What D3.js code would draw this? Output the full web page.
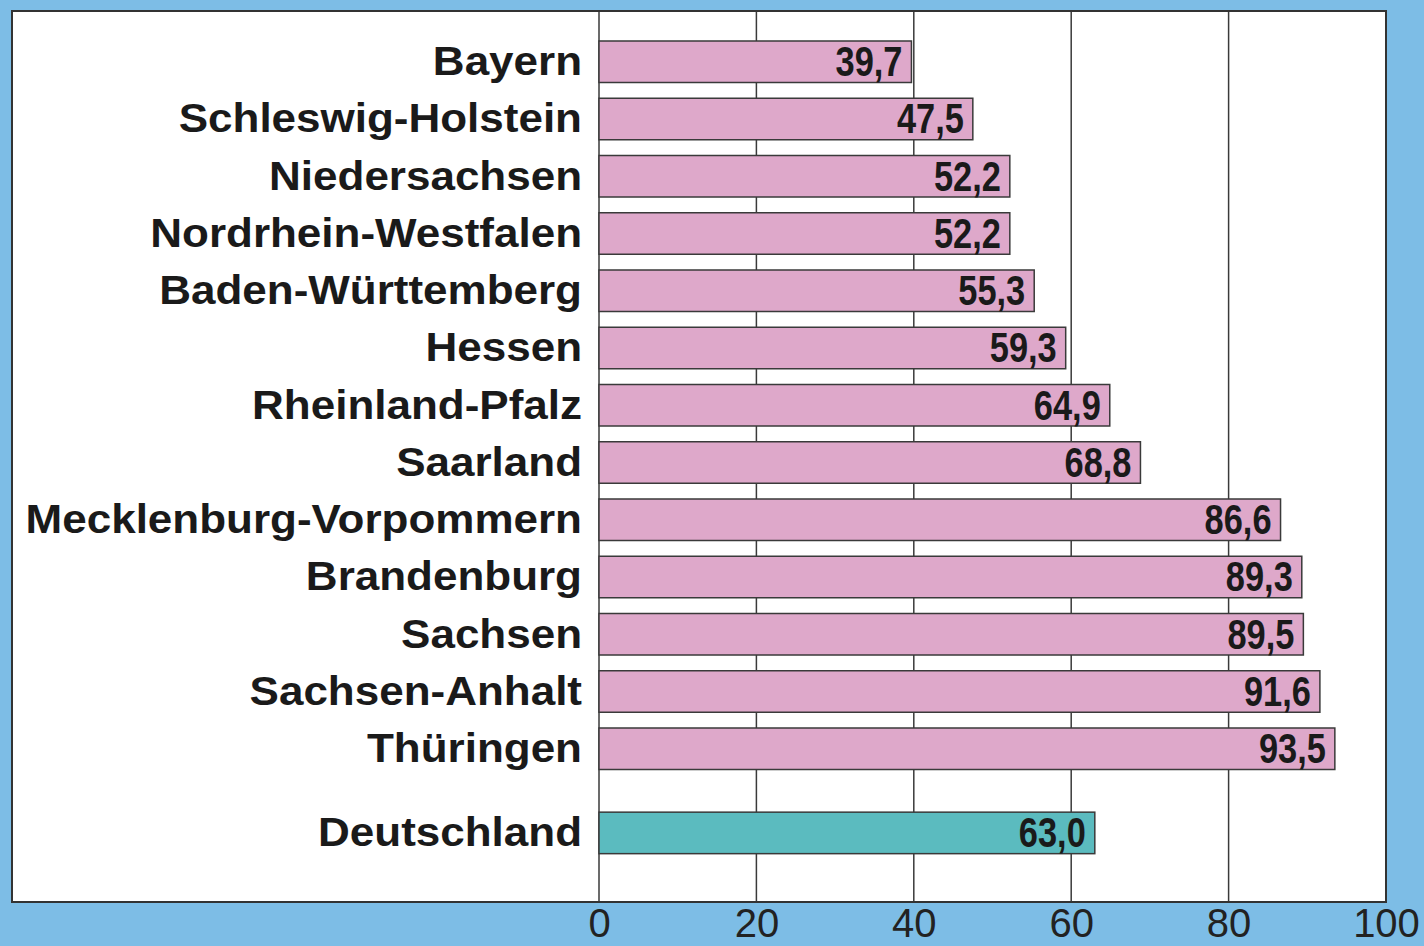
<!DOCTYPE html>
<html><head><meta charset="utf-8">
<script src="https://cdn.jsdelivr.net/npm/d3@7"></script>
<style>html,body{margin:0;padding:0;background:#7dbde6;overflow:hidden}</style>
</head><body>
<svg id="c" width="1424" height="946"></svg>
<script>
const states = ["Bayern","Schleswig-Holstein","Niedersachsen","Nordrhein-Westfalen","Baden-Württemberg","Hessen","Rheinland-Pfalz","Saarland","Mecklenburg-Vorpommern","Brandenburg","Sachsen","Sachsen-Anhalt","Thüringen"];
const stateValues = [39.7,47.5,52.2,52.2,55.3,59.3,64.9,68.8,86.6,89.3,89.5,91.6,93.5];
const totalLabel = ["Deutschland"];
const totalValue = [63.0];
const ticks = [0,20,40,60,80,100];

const svg = d3.select("#c");
const W = 1424, H = 946;
const panel = {l:12, t:11, r:1386, b:902};
const x = d3.scaleLinear().domain([0,100]).range([599, 1386]);
const y = d3.scaleLinear().domain([0,1]).range([41, 98.25]);
const barH = 41.5;
const fmt = v => d3.format(".1f")(v).replace(".", ",");

svg.append("rect").attr("width",W).attr("height",H).attr("fill","#7dbde6");
svg.append("rect").attr("x",panel.l).attr("y",panel.t).attr("width",panel.r-panel.l).attr("height",panel.b-panel.t)
  .attr("fill","#ffffff");

// gridlines
svg.append("g").selectAll("line").data(ticks.filter(t=>t<100)).join("line")
  .attr("x1",d=>x(d)).attr("x2",d=>x(d)).attr("y1",panel.t).attr("y2",panel.b)
  .attr("stroke","#3a3a3a").attr("stroke-width",1.5);

const rows = states.map((s,i)=>({name:s, value:stateValues[i], idx:i, color:"#dea8ca"}))
  .concat(totalLabel.map((s,i)=>({name:s, value:totalValue[i], idx:13.47, color:"#5bbbbf"})));

const g = svg.append("g");
g.selectAll("rect.bar").data(rows).join("rect").attr("class","bar")
  .attr("x",x(0)).attr("y",d=>y(d.idx)).attr("width",d=>x(d.value)-x(0)).attr("height",barH)
  .attr("fill",d=>d.color).attr("stroke","#3a3a3a").attr("stroke-width",1.5);

// value labels (condensed bold)
g.selectAll("text.val").data(rows).join("text").attr("class","val")
  .attr("transform",d=>`translate(${x(d.value)-9},${y(d.idx)+35}) scale(0.8,1)`)
  .attr("text-anchor","end")
  .attr("font-family","'Liberation Sans', Arial, sans-serif").attr("font-weight","bold")
  .attr("font-size",43).attr("fill","#1a1a1a")
  .text(d=>fmt(d.value));

// category labels
g.selectAll("text.cat").data(rows).join("text").attr("class","cat")
  .attr("transform",d=>`translate(582,${y(d.idx)+34}) scale(1.1,1)`)
  .attr("text-anchor","end")
  .attr("font-family","'Liberation Sans', Arial, sans-serif").attr("font-weight","bold")
  .attr("font-size",40).attr("fill","#1a1a1a")
  .text(d=>d.name);

// panel border
svg.append("rect").attr("x",panel.l).attr("y",panel.t).attr("width",panel.r-panel.l).attr("height",panel.b-panel.t)
  .attr("fill","none").attr("stroke","#333").attr("stroke-width",2);

// x axis tick labels
const ax = svg.append("g").attr("transform",`translate(0,${panel.b})`)
  .call(d3.axisBottom(x).tickValues(ticks).tickSize(0).tickPadding(0).tickFormat(d3.format("d")));
ax.select(".domain").remove();
ax.selectAll("text").attr("dy",null).attr("y",35)
  .attr("font-family","'Liberation Sans', Arial, sans-serif").attr("font-size",40).attr("fill","#222");
</script>
</body></html>
